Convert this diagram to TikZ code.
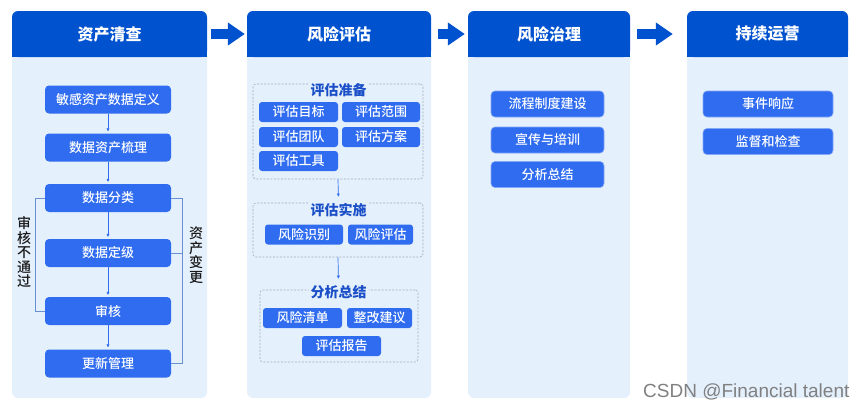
\documentclass[tikz,border=0pt]{standalone}
\usepackage{fontspec}
\setmainfont{Noto Sans CJK SC}
\newfontfamily\midfont{Noto Sans CJK SC Medium}
\newfontfamily\markfont{Liberation Sans}
\usetikzlibrary{arrows.meta}
\definecolor{headblue}{HTML}{0052CF}
\definecolor{boxblue}{HTML}{2F6CF0}
\definecolor{paleblue}{HTML}{E5F0FD}
\definecolor{lineblue}{HTML}{6A90D4}
\definecolor{dashgray}{HTML}{A3ACBA}
\definecolor{titleblue}{HTML}{1A4FC8}
\tikzset{
  stage/.style={minimum width=#1, minimum height=46pt, inner sep=0pt, text=white,
    font=\fontsize{16}{18}\selectfont\bfseries},
  box/.style={fill=boxblue, rounded corners=4pt, text=white, minimum width=#1,
    minimum height=28pt, inner sep=0pt, font=\midfont\fontsize{13}{15}\selectfont},
  box/.default=126pt,
  sbox/.style={box=#1, minimum height=20pt, rounded corners=3pt},
  wbox/.style={box=#1, minimum height=26pt, draw=boxblue!60!white, line width=0.6pt},
  group/.style={draw=dashgray, dash pattern=on 2pt off 1.5pt, line width=0.6pt,
    rounded corners=3pt},
  gtitle/.style={fill=paleblue, inner sep=2pt, text=titleblue,
    font=\fontsize{14}{16}\selectfont\bfseries},
  side/.style={align=center, text=black!90, font=\midfont\fontsize{14}{14.5}\selectfont},
  flow/.style={draw=boxblue, line width=0.7pt, -{Latex[length=3.5pt,width=3.2pt]},
    shorten >=1.5pt},
  loopline/.style={draw=lineblue, line width=0.8pt},
  bigarrow/.style={draw=headblue, line width=10pt, -{Triangle[length=17pt,width=22pt]}}
}
\begin{document}
\begin{tikzpicture}[x=1pt,y=-1pt]
  \useasboundingbox (0,0) rectangle (865,407);
  % columns
  \foreach \xa/\xb in {12/207,247/431,468/630,687/848}{
    \fill[paleblue,rounded corners=6pt] (\xa,11) rectangle (\xb,398);
    \fill[headblue,rounded corners=6pt] (\xa,11) rectangle (\xb,57);
    \fill[headblue] (\xa,47) rectangle (\xb,57);
  }
  \draw
    (109.5,34) node[stage=195pt] (h1){资产清查}
    (339,34) node[stage=184pt] (h2){风险评估}
    (549,34) node[stage=162pt] (h3){风险治理}
    (767.5,34) node[stage=161pt] (h4){持续运营};
  \begin{scope}[bigarrow]
    \draw[shorten <=4pt, shorten >=2pt] (h1) to (h2);
    \draw[shorten <=7pt, shorten >=3pt] (h2) to (h3);
    \draw[shorten <=7pt, shorten >=14pt] (h3) to (h4);
  \end{scope}
  % asset inventory
  \draw
    (108,99.5) node[box] (a1){敏感资产数据定义}
    (108,147.5) node[box] (a2){数据资产梳理}
    (108,198) node[box] (a3){数据分类}
    (108,253) node[box] (a4){数据定级}
    (108,311) node[box] (a5){审核}
    (108,363.5) node[box] (a6){更新管理};
  \begin{scope}[flow]
    \draw (a1) to (a2);
    \draw (a2) to (a3);
    \draw (a3) to (a4);
    \draw (a4) to (a5);
    \draw (a5) to (a6);
  \end{scope}
  \begin{scope}[loopline]
    \draw (a5.west) -- ++(-9,0) |- (a3.west);
    \draw (a6.east) -- ++(11,0) |- (a3.east);
    \draw (a4.east) -- ++(11,0);
  \end{scope}
  \node[side] (fail) at (24,252) {审\\核\\不\\通\\过};
  \node[side] (change) at (196,255) {资\\产\\变\\更};
  % risk assessment
  \draw
    (338,131.5) node[group, minimum width=170pt, minimum height=95pt] (g1){}
    (338,230) node[group, minimum width=170pt, minimum height=54pt] (g2){}
    (339,326) node[group, minimum width=158pt, minimum height=72pt] (g3){};
  \draw
    (338.5,90) node[gtitle] (t1){评估准备}
    (338.5,210) node[gtitle] (t2){评估实施}
    (338.5,292) node[gtitle] (t3){分析总结};
  \begin{scope}[flow]
    \draw[shorten >=4pt] (g1.south) to (t2.north);
    \draw[shorten >=4pt] (g2.south) to (t3.north);
  \end{scope}
  \draw
    (298.5,112) node[sbox=79pt] (p1){评估目标}
    (381,112) node[sbox=78pt] (p2){评估范围}
    (298.5,137) node[sbox=79pt] (p3){评估团队}
    (381,137) node[sbox=78pt] (p4){评估方案}
    (298.5,161) node[sbox=79pt] (p5){评估工具}
    (304,234.5) node[sbox=78pt] (r1){风险识别}
    (380.5,234.5) node[sbox=65pt] (r2){风险评估}
    (302.5,318) node[sbox=79pt] (s1){风险清单}
    (379.5,318) node[sbox=65pt] (s2){整改建议}
    (341.5,346) node[sbox=79pt] (s3){评估报告};
  % governance and operation
  \draw
    (547.5,104) node[wbox=113pt] (c1){流程制度建设}
    (547.5,140) node[wbox=113pt] (c2){宣传与培训}
    (547.5,174.5) node[wbox=113pt] (c3){分析总结}
    (768,104) node[wbox=130pt] (d1){事件响应}
    (768,141.5) node[wbox=130pt] (d2){监督和检查};
  \node[anchor=base west, inner sep=0pt, text=black!50,
    font=\markfont\fontsize{19}{21}\selectfont] (mark) at (643,397) {CSDN @Financial talent};
\end{tikzpicture}
\end{document}
